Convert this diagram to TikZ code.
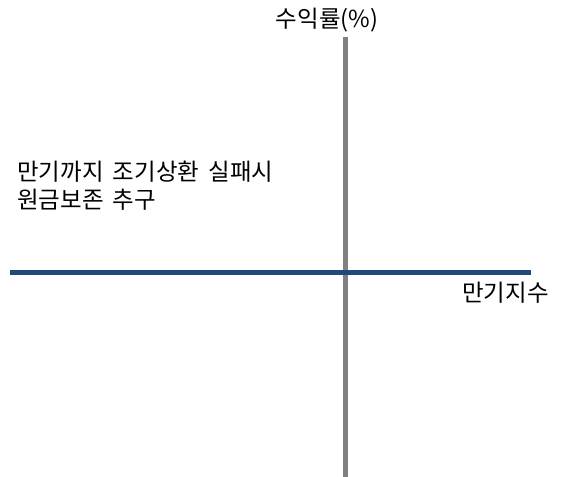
\documentclass[tikz,border=0pt]{standalone}
\usepackage{fontspec}
\setmainfont{Noto Sans CJK KR}
\definecolor{axisblue}{HTML}{1F497D}
\definecolor{axisgray}{HTML}{808080}
\tikzset{
  lbl/.style={inner sep=0pt, font=\fontsize{17.6}{21}\selectfont, text=black},
}
\begin{document}
\begin{tikzpicture}[x=0.75pt,y=-0.75pt]
\useasboundingbox (0,0) rectangle (561,477);
\coordinate (vt) at (345.5,37);
\coordinate (vb) at (345.5,477);
\coordinate (hl) at (10,272.5);
\coordinate (hr) at (531,272.5);
\draw[axisgray, line width=3.75pt] (vt) -- (vb);
\draw[axisblue, line width=3.5pt] (hl) -- (hr);
\node[lbl] (ylab) at (327,20) {수익률(\%)};
\node[lbl] (xlab) at (505.5,293) {만기지수};
\node[lbl, anchor=west, align=left] (note) at (17,186) {만기까지\hspace{7pt}조기상환\hspace{7pt}실패시\\원금보존\hspace{7pt}추구};
\end{tikzpicture}
\end{document}
